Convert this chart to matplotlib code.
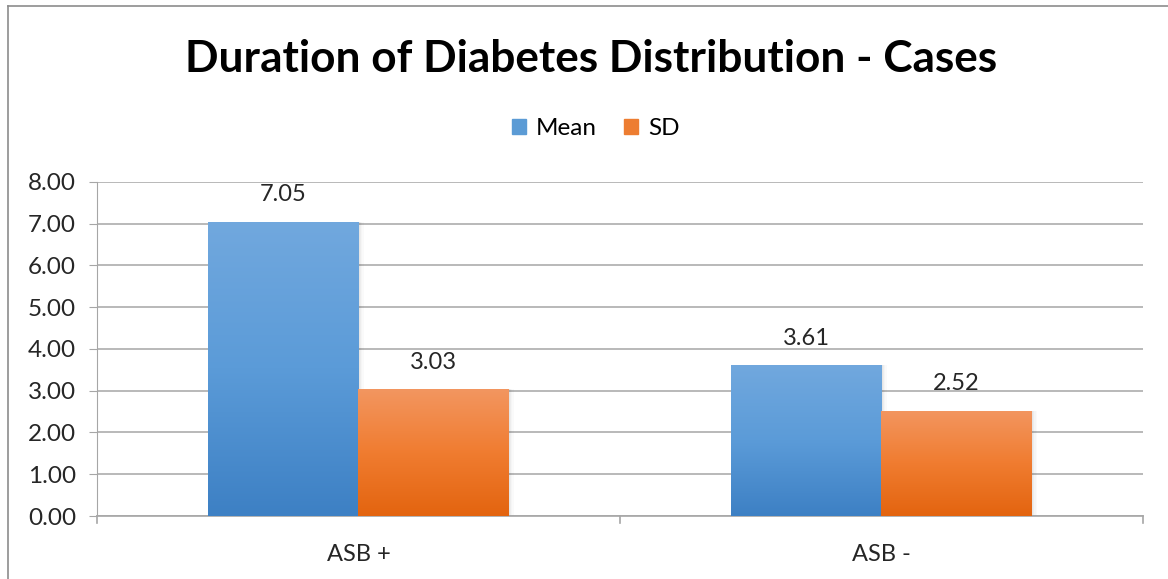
import numpy as np
import matplotlib
matplotlib.use("Agg")
import matplotlib.pyplot as plt
from matplotlib.colors import LinearSegmentedColormap
from matplotlib.lines import Line2D

categories = ["ASB +", "ASB -"]
series_names = ["Mean", "SD"]
mean_vals = [7.05, 3.61]
sd_vals = [3.03, 2.52]
y_ticks = [0, 1, 2, 3, 4, 5, 6, 7, 8]

plt.rcParams['font.family'] = ['Lato', 'DejaVu Sans']

fig = plt.figure(figsize=(11.68, 5.79), dpi=100)
ax = fig.add_axes([0.083, 0.1088, 0.8956, 0.5769])

# vertical gradients for the two series (light at top, dark at bottom)
cmaps = {
    "Mean": LinearSegmentedColormap.from_list("mean", ["#3d80c4", "#5b9bd8", "#71a8de"]),
    "SD": LinearSegmentedColormap.from_list("sd", ["#e3640f", "#f07c30", "#f39660"]),
}
solid = {"Mean": "#5b9bd5", "SD": "#ed7d31"}

x = np.arange(len(categories))
width = 0.287
grad = np.linspace(0, 1, 256).reshape(-1, 1)

for i, (name, vals) in enumerate(zip(series_names, [mean_vals, sd_vals])):
    offs = (i - 0.5) * width
    bars = ax.bar(x + offs, vals, width, color="none", edgecolor="none", zorder=3, label=name)
    for b, v in zip(bars, vals):
        x0 = b.get_x()
        # soft shadow on the right side
        for k, a in enumerate([0.10, 0.07, 0.04, 0.02]):
            ax.bar(x0 + width + k * 0.0025, v, 0.0025, align="edge", color="black",
                   alpha=a, edgecolor="none", zorder=2)
        im = ax.imshow(grad, cmap=cmaps[name], origin="lower", aspect="auto",
                       extent=[x0, x0 + width, 0, v], zorder=3)
        im.set_clip_path(b)
        ax.annotate(f"{v:.2f}", (x0 + width / 2, v), xytext=(0, 19.5), textcoords="offset points",
                    ha="center", va="center", fontsize=17, color="#262626")

ax.set_xlim(-0.5, 1.5)
ax.set_ylim(0, 8)
ax.set_yticks(y_ticks)
ax.set_yticklabels([f"{t:.2f}" for t in y_ticks], fontsize=17.5, color="#262626")
ax.set_xticks(x)
ax.set_xticklabels(categories, fontsize=17, color="#262626")
ax.tick_params(axis="x", length=0, pad=20)
ax.tick_params(axis="y", length=6, color="#a6a6a6", pad=9)

# category separators on the x axis
for xt in [-0.5, 0.5, 1.5]:
    ax.plot([xt, xt], [0, -0.17], color="#a6a6a6", lw=1.2, clip_on=False, zorder=1)

ax.yaxis.grid(True, color="#a6a6a6", lw=1.1, zorder=0)
ax.set_axisbelow(True)
for s in ["top", "right"]:
    ax.spines[s].set_visible(False)
ax.spines["left"].set_color("#a6a6a6")
ax.spines["bottom"].set_color("#a6a6a6")
ax.spines["bottom"].set_linewidth(1.2)

handles = [plt.Rectangle((0, 0), 1, 1, color=solid[n]) for n in series_names]
fig.legend(handles, series_names, loc="center", bbox_to_anchor=(0.51, 0.778), ncol=2,
           frameon=False, fontsize=17.5, handlelength=0.6, handleheight=0.6,
           handletextpad=0.4, columnspacing=1.1)

fig.text(0.506, 0.898, "Duration of Diabetes Distribution - Cases", ha="center", va="center",
         fontsize=31.8, fontweight="bold", color="black")

# outer chart border (top and left edges visible)
fig.add_artist(Line2D([8 / 1168, 1.0], [1 - 6 / 579, 1 - 6 / 579], color="#8c8c8c", lw=1.2))
fig.add_artist(Line2D([8 / 1168, 8 / 1168], [0, 1 - 6 / 579], color="#8c8c8c", lw=1.2))

fig.savefig("out.png", dpi=100)
